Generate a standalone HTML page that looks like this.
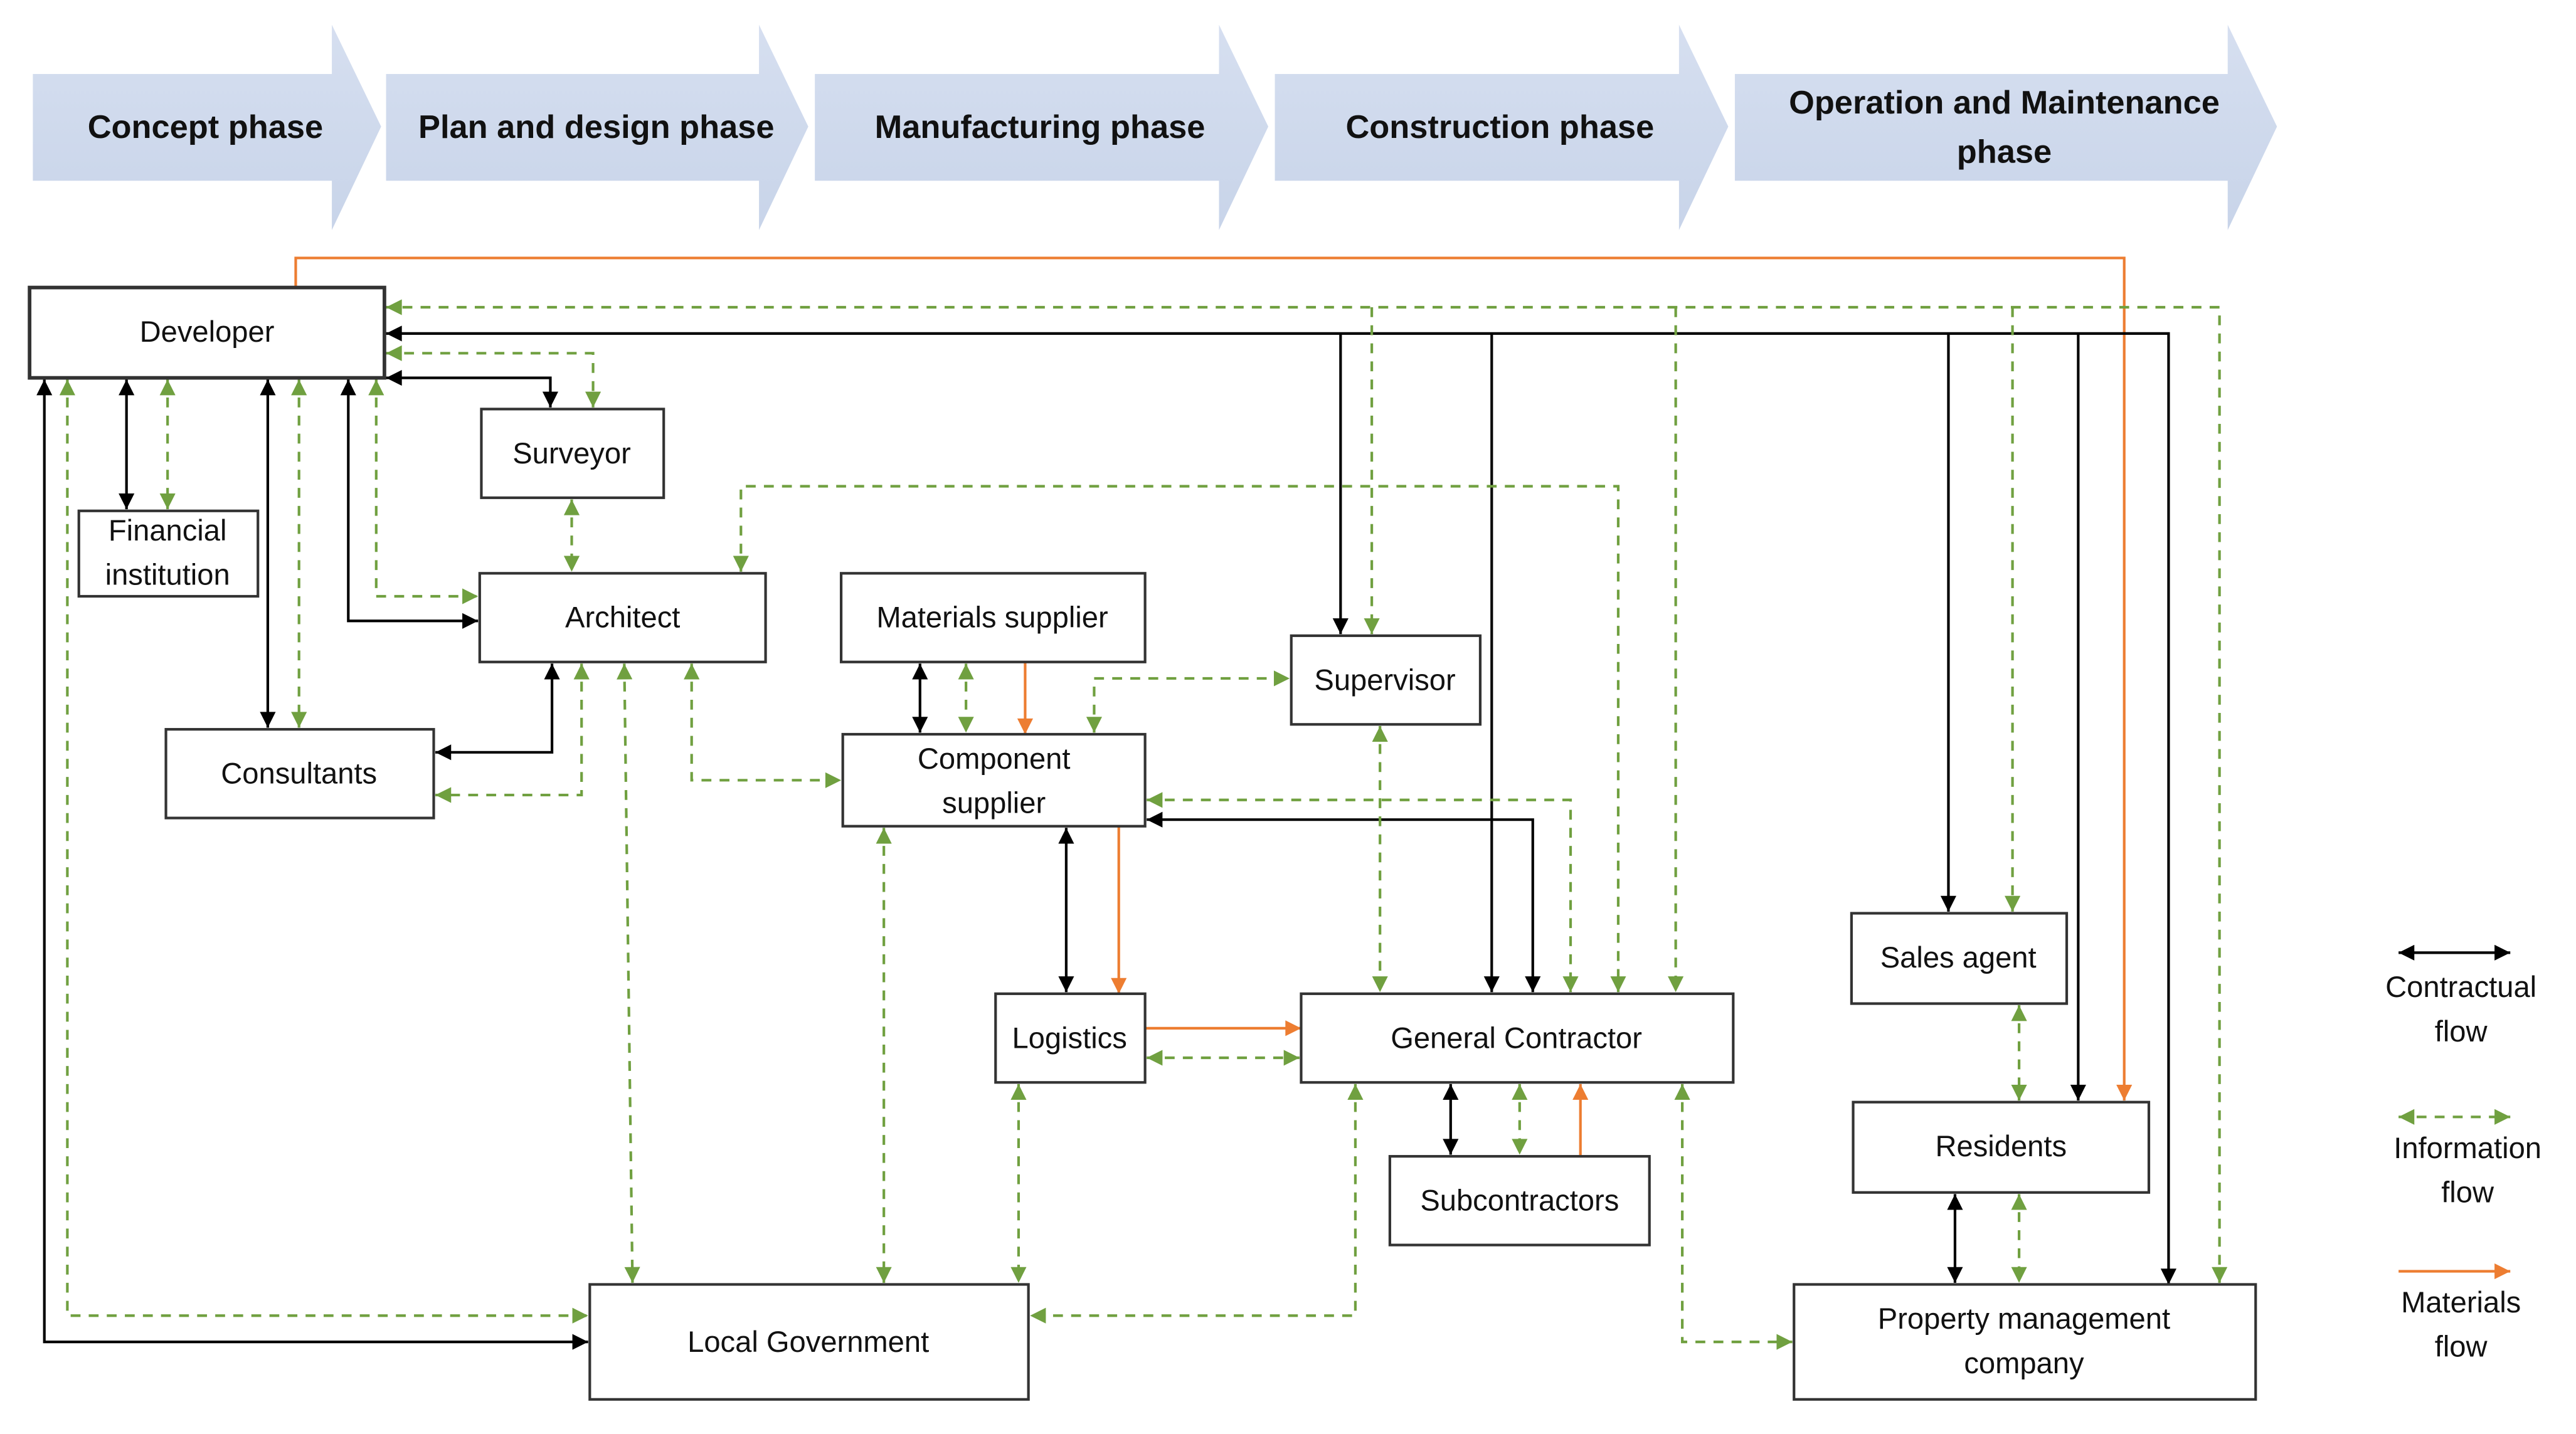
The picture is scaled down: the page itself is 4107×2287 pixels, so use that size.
<!DOCTYPE html>
<html><head><meta charset="utf-8"><style>
html,body{margin:0;padding:0;background:#fff;}
svg{display:block;}
text{font-family:"Liberation Sans",sans-serif;}
</style></head><body>
<svg width="4107" height="2287" viewBox="0 0 1568 873" xmlns="http://www.w3.org/2000/svg">
<defs>
<linearGradient id="g" x1="0" y1="0" x2="0" y2="1"><stop offset="0" stop-color="#d6dff0"/><stop offset="1" stop-color="#c8d4e9"/></linearGradient>
<marker id="mb" viewBox="0 0 10 10" refX="10" refY="5" markerWidth="6.5" markerHeight="6" orient="auto-start-reverse"><path d="M0,0L10,5L0,10z" fill="#000"/></marker>
<marker id="mg" viewBox="0 0 10 10" refX="10" refY="5" markerWidth="6.5" markerHeight="6" orient="auto-start-reverse"><path d="M0,0L10,5L0,10z" fill="#70a040"/></marker>
<marker id="mo" viewBox="0 0 10 10" refX="10" refY="5" markerWidth="6.5" markerHeight="6" orient="auto-start-reverse"><path d="M0,0L10,5L0,10z" fill="#ed7d31"/></marker>
</defs>
<g fill="url(#g)">
<path d="M20,45H202V15L232,77L202,140V110H20z"/>
<path d="M235,45H462V15L492,77L462,140V110H235z"/>
<path d="M496,45H742V15L772,77L742,140V110H496z"/>
<path d="M776,45H1022V15L1052,77L1022,140V110H776z"/>
<path d="M1056,45H1356V15L1386,77L1356,140V110H1056z"/>
</g>
<g font-weight="bold" font-size="20" fill="#111" text-anchor="middle">
<text x="125" y="84">Concept phase</text>
<text x="363" y="84">Plan and design phase</text>
<text x="633" y="84">Manufacturing phase</text>
<text x="913" y="84">Construction phase</text>
<text x="1220" y="69">Operation and Maintenance</text>
<text x="1220" y="99">phase</text>
</g>
<g fill="none" stroke-width="1.6">
<g stroke="#ed7d31">
<path d="M180,175V157H1293V670" marker-end="url(#mo)"/>
<path d="M624,403V447" marker-end="url(#mo)"/>
<path d="M681,503V605" marker-end="url(#mo)"/>
<path d="M697,626H792" marker-end="url(#mo)"/>
<path d="M962,704V660" marker-end="url(#mo)"/>
</g>
<g stroke="#000">
<path d="M1320,782V203H235" marker-start="url(#mb)" marker-end="url(#mb)"/>
<path d="M816,203V386" marker-end="url(#mb)"/>
<path d="M908,203V604" marker-end="url(#mb)"/>
<path d="M1186,203V555" marker-end="url(#mb)"/>
<path d="M1265,203V670" marker-end="url(#mb)"/>
<path d="M235,230H335V248" marker-start="url(#mb)" marker-end="url(#mb)"/>
<path d="M77,231V310" marker-start="url(#mb)" marker-end="url(#mb)"/>
<path d="M163,231V443" marker-start="url(#mb)" marker-end="url(#mb)"/>
<path d="M212,231V378H291" marker-start="url(#mb)" marker-end="url(#mb)"/>
<path d="M27,231V817H358" marker-start="url(#mb)" marker-end="url(#mb)"/>
<path d="M336,404V458H265" marker-start="url(#mb)" marker-end="url(#mb)"/>
<path d="M560,404V446" marker-start="url(#mb)" marker-end="url(#mb)"/>
<path d="M698,499H933V604" marker-start="url(#mb)" marker-end="url(#mb)"/>
<path d="M649,504V604" marker-start="url(#mb)" marker-end="url(#mb)"/>
<path d="M883,660V703" marker-start="url(#mb)" marker-end="url(#mb)"/>
<path d="M1190,727V781" marker-start="url(#mb)" marker-end="url(#mb)"/>
<path d="M1460,580H1528" marker-start="url(#mb)" marker-end="url(#mb)"/>
</g>
<g stroke="#70a040" stroke-dasharray="6,5">
<path d="M1351,781V187H235" marker-start="url(#mg)" marker-end="url(#mg)"/>
<path d="M835,187V386" marker-end="url(#mg)"/>
<path d="M1020,187V604" marker-end="url(#mg)"/>
<path d="M1225,187V555" marker-end="url(#mg)"/>
<path d="M235,215H361V248" marker-start="url(#mg)" marker-end="url(#mg)"/>
<path d="M102,231V310" marker-start="url(#mg)" marker-end="url(#mg)"/>
<path d="M182,231V443" marker-start="url(#mg)" marker-end="url(#mg)"/>
<path d="M229,231V363H291" marker-start="url(#mg)" marker-end="url(#mg)"/>
<path d="M41,231V801H358" marker-start="url(#mg)" marker-end="url(#mg)"/>
<path d="M348,304V348" marker-start="url(#mg)" marker-end="url(#mg)"/>
<path d="M354,404V484H265" marker-start="url(#mg)" marker-end="url(#mg)"/>
<path d="M380,404L385,781" marker-start="url(#mg)" marker-end="url(#mg)"/>
<path d="M421,404V475H512" marker-start="url(#mg)" marker-end="url(#mg)"/>
<path d="M451,348V296H985V604" marker-start="url(#mg)" marker-end="url(#mg)"/>
<path d="M588,404V446" marker-start="url(#mg)" marker-end="url(#mg)"/>
<path d="M666,446V413H785" marker-start="url(#mg)" marker-end="url(#mg)"/>
<path d="M840,442V604" marker-start="url(#mg)" marker-end="url(#mg)"/>
<path d="M698,487H956V604" marker-start="url(#mg)" marker-end="url(#mg)"/>
<path d="M538,504V781" marker-start="url(#mg)" marker-end="url(#mg)"/>
<path d="M698,644H791" marker-start="url(#mg)" marker-end="url(#mg)"/>
<path d="M620,660V781" marker-start="url(#mg)" marker-end="url(#mg)"/>
<path d="M925,660V703" marker-start="url(#mg)" marker-end="url(#mg)"/>
<path d="M825,660V801H627" marker-start="url(#mg)" marker-end="url(#mg)"/>
<path d="M1024,660V817H1091" marker-start="url(#mg)" marker-end="url(#mg)"/>
<path d="M1229,612V670" marker-start="url(#mg)" marker-end="url(#mg)"/>
<path d="M1229,727V781" marker-start="url(#mg)" marker-end="url(#mg)"/>
<path d="M1460,680H1528" marker-start="url(#mg)" marker-end="url(#mg)"/>
</g>
<path d="M1460,774H1528" stroke="#ed7d31" marker-end="url(#mo)"/>
</g>
<g fill="#fff" stroke="#333" stroke-width="1.6">
<rect x="18" y="175" width="216" height="55" stroke-width="2.2"/>
<rect x="293" y="249" width="111" height="54"/>
<rect x="48" y="311" width="109" height="52"/>
<rect x="292" y="349" width="174" height="54"/>
<rect x="512" y="349" width="185" height="54"/>
<rect x="786" y="387" width="115" height="54"/>
<rect x="101" y="444" width="163" height="54"/>
<rect x="513" y="447" width="184" height="56"/>
<rect x="1127" y="556" width="131" height="55"/>
<rect x="606" y="605" width="91" height="54"/>
<rect x="792" y="605" width="263" height="54"/>
<rect x="1128" y="671" width="180" height="55"/>
<rect x="846" y="704" width="158" height="54"/>
<rect x="359" y="782" width="267" height="70"/>
<rect x="1092" y="782" width="281" height="70"/>
</g>
<g font-size="18" fill="#111" text-anchor="middle">
<text x="126" y="208">Developer</text>
<text x="348" y="282">Surveyor</text>
<text x="102" y="329">Financial</text>
<text x="102" y="356">institution</text>
<text x="379" y="382">Architect</text>
<text x="604" y="382">Materials supplier</text>
<text x="843" y="420">Supervisor</text>
<text x="182" y="477">Consultants</text>
<text x="605" y="468">Component</text>
<text x="605" y="495">supplier</text>
<text x="1192" y="589">Sales agent</text>
<text x="651" y="638">Logistics</text>
<text x="923" y="638">General Contractor</text>
<text x="1218" y="704">Residents</text>
<text x="925" y="737">Subcontractors</text>
<text x="492" y="823">Local Government</text>
<text x="1232" y="809">Property management</text>
<text x="1232" y="836">company</text>
<text x="1498" y="607">Contractual</text>
<text x="1498" y="634">flow</text>
<text x="1502" y="705">Information</text>
<text x="1502" y="732">flow</text>
<text x="1498" y="799">Materials</text>
<text x="1498" y="826">flow</text>
</g>
</svg>
</body></html>
